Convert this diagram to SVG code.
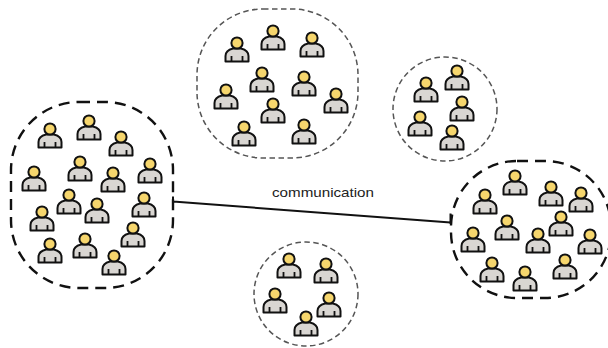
<svg xmlns="http://www.w3.org/2000/svg" xmlns:xlink="http://www.w3.org/1999/xlink" width="608" height="348" viewBox="0 0 608 348">
<style>
.thick{fill:none;stroke:#111;stroke-width:2.4;stroke-dasharray:11 7}
.thin{fill:none;stroke:#555;stroke-width:1.5;stroke-dasharray:5.500 3.500}
.conn{fill:none;stroke:#111;stroke-width:2}
.label{font-family:"Liberation Sans",Arial,sans-serif;font-size:12.6px;fill:#222}
</style>
<defs>
<g id="p">
<path d="M-11.500 18.500V13C-11.500 8.500-8 6.500-4 5.500H4C8 6.500 11.500 8.500 11.500 13V18.500Z" fill="#d9d6d2" stroke="#111" stroke-width="2" stroke-linejoin="round"/>
<path d="M-5.500 13V18.500M5.500 13V18.500" fill="none" stroke="#111" stroke-width="1.8"/>
<circle r="5.600" fill="#f6d66d" stroke="#111" stroke-width="2"/>
</g>
</defs>
<rect width="608" height="348" fill="#fff"/>
<g id="connectors">
<path class="conn" d="M173 201.500L450.500 222.500M173 196.500V207M450.500 213.500V224"/>
</g>
<text class="label" x="272" y="196.500" textLength="102" lengthAdjust="spacingAndGlyphs">communication</text>
<g id="cluster-left">
<rect class="thick" x="11" y="102" width="162" height="186" rx="68" ry="68"/>
<use xlink:href="#p" href="#p" x="50" y="129"/><use xlink:href="#p" href="#p" x="89" y="121"/><use xlink:href="#p" href="#p" x="121" y="137"/><use xlink:href="#p" href="#p" x="80" y="162"/><use xlink:href="#p" href="#p" x="150" y="164"/><use xlink:href="#p" href="#p" x="113" y="173"/><use xlink:href="#p" href="#p" x="34" y="172"/><use xlink:href="#p" href="#p" x="69" y="195"/><use xlink:href="#p" href="#p" x="97" y="204"/><use xlink:href="#p" href="#p" x="144" y="198"/><use xlink:href="#p" href="#p" x="42" y="212"/><use xlink:href="#p" href="#p" x="133" y="228"/><use xlink:href="#p" href="#p" x="85" y="239"/><use xlink:href="#p" href="#p" x="50" y="244"/><use xlink:href="#p" href="#p" x="114" y="256"/>
</g>
<g id="cluster-top">
<rect class="thin" x="197" y="9" width="161" height="149" rx="66" ry="66"/>
<use xlink:href="#p" href="#p" x="237" y="43"/><use xlink:href="#p" href="#p" x="273" y="31"/><use xlink:href="#p" href="#p" x="312" y="38"/><use xlink:href="#p" href="#p" x="262" y="73"/><use xlink:href="#p" href="#p" x="304" y="77"/><use xlink:href="#p" href="#p" x="226" y="90"/><use xlink:href="#p" href="#p" x="336" y="94"/><use xlink:href="#p" href="#p" x="273" y="104"/><use xlink:href="#p" href="#p" x="244" y="127"/><use xlink:href="#p" href="#p" x="304" y="125"/>
</g>
<g id="cluster-upper-right">
<circle class="thin" cx="445" cy="109" r="52"/>
<use xlink:href="#p" href="#p" x="426" y="83"/><use xlink:href="#p" href="#p" x="457" y="71"/><use xlink:href="#p" href="#p" x="462" y="102"/><use xlink:href="#p" href="#p" x="420" y="117"/><use xlink:href="#p" href="#p" x="452" y="131"/>
</g>
<g id="cluster-right">
<rect class="thick" x="451" y="161" width="160" height="137" rx="66" ry="66"/>
<use xlink:href="#p" href="#p" x="515" y="176"/><use xlink:href="#p" href="#p" x="485" y="195"/><use xlink:href="#p" href="#p" x="551" y="187"/><use xlink:href="#p" href="#p" x="581" y="193"/><use xlink:href="#p" href="#p" x="507" y="221"/><use xlink:href="#p" href="#p" x="561" y="217"/><use xlink:href="#p" href="#p" x="473" y="233"/><use xlink:href="#p" href="#p" x="538" y="234"/><use xlink:href="#p" href="#p" x="590" y="235"/><use xlink:href="#p" href="#p" x="492" y="263"/><use xlink:href="#p" href="#p" x="525" y="272"/><use xlink:href="#p" href="#p" x="565" y="260"/>
</g>
<g id="cluster-bottom">
<circle class="thin" cx="306" cy="294" r="52"/>
<use xlink:href="#p" href="#p" x="289" y="259"/><use xlink:href="#p" href="#p" x="326" y="264"/><use xlink:href="#p" href="#p" x="275" y="294"/><use xlink:href="#p" href="#p" x="329" y="298"/><use xlink:href="#p" href="#p" x="306" y="317"/>
</g>
</svg>
